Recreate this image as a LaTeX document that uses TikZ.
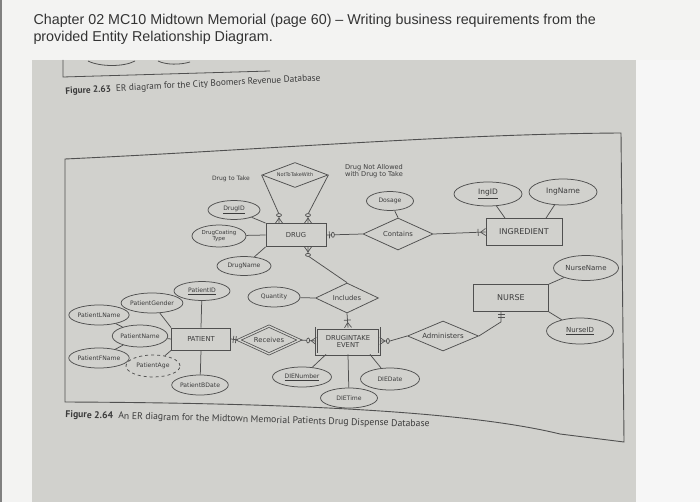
\documentclass[tikz,border=0pt]{standalone}
\usepackage{fontspec}
\setmainfont{Liberation Sans}
\newfontfamily\erfont{DejaVu Sans}
\newfontfamily\capfont{PT Sans}
\usepackage{xcolor}
\definecolor{papergray}{RGB}{243,243,242}
\definecolor{pagegray}{RGB}{209,209,205}
\definecolor{erline}{RGB}{80,80,80}
\definecolor{ertext}{RGB}{60,60,60}
\usepackage{tikz}
\usetikzlibrary{shapes.geometric,decorations.markings,calc}

\begin{document}
\begin{tikzpicture}[x=1pt,y=-1pt,
    entity/.style={draw=erline, line width=0.8pt, fill=pagegray, text=ertext,
      minimum width=60pt, minimum height=23pt, inner sep=1pt, align=center,
      font=\erfont\fontsize{6.8}{7}\selectfont},
    attr/.style={ellipse, draw=erline, line width=0.75pt, fill=pagegray, text=ertext,
      minimum width=54pt, minimum height=20pt, inner sep=0pt, align=center,
      font=\erfont\fontsize{6.1}{6.2}\selectfont},
    rel/.style={diamond, aspect=2.2, draw=erline, line width=0.75pt, fill=pagegray,
      text=ertext, minimum width=64pt, minimum height=30pt, inner sep=0pt,
      font=\erfont\fontsize{6.8}{7}\selectfont},
    link/.style={draw=erline, line width=0.75pt},
    zeromany/.style={postaction={decorate, decoration={markings,
      mark=at position 1 with {
        \draw[erline, line width=0.7pt] (-5pt,0) -- (0,3.5pt) (-5pt,0) -- (0,-3.5pt);
        \draw[erline, line width=0.7pt, fill=pagegray] (-8pt,0) ellipse [x radius=1.5pt, y radius=2.5pt];
      }}}},
    onemany/.style={postaction={decorate, decoration={markings,
      mark=at position 1 with {
        \draw[erline, line width=0.7pt] (-5pt,0) -- (0,3.5pt) (-5pt,0) -- (0,-3.5pt);
        \draw[erline, line width=0.7pt] (-7.5pt,-3.5pt) -- (-7.5pt,3.5pt);
      }}}},
    zeroone/.style={postaction={decorate, decoration={markings,
      mark=at position 1 with {
        \draw[erline, line width=0.7pt] (-3pt,-3.5pt) -- (-3pt,3.5pt);
        \draw[erline, line width=0.7pt, fill=pagegray] (-6.5pt,0) ellipse [x radius=1.5pt, y radius=2.5pt];
      }}}},
    oneone/.style={postaction={decorate, decoration={markings,
      mark=at position 1 with {
        \draw[erline, line width=0.7pt] (-2.5pt,-3.5pt) -- (-2.5pt,3.5pt) (-5pt,-3.5pt) -- (-5pt,3.5pt);
      }}}},
    caption/.style={anchor=west, text=ertext, font=\capfont\fontsize{9.3}{10}\selectfont}
  ]
  \useasboundingbox (0,0) rectangle (700,502);

  % photographed page
  \fill[papergray] (0,0) rectangle (700,502);
  \fill[pagegray] (32,60) rectangle (636,502);
  \fill[white!93!gray] (636,60) rectangle (700,502);
  \draw[gray, line width=1.5pt] (0.75,0) -- (0.75,502);

  \node[anchor=west, text=black!80, align=left, font=\fontsize{14.3}{17}\selectfont]
    (title) at (30,29) {Chapter 02 MC10 Midtown Memorial (page 60) – Writing business requirements from the\\
    provided Entity Relationship Diagram.};

  % end of the previous figure
  \draw[erline, line width=0.8pt] (63,60) -- (63,77) -- (270,71);
  \draw[erline, line width=0.8pt] (88,61) .. controls (100,67) and (124,67) .. (135,61);
  \draw[erline, line width=0.8pt] (158,61) .. controls (166,65) and (180,65) .. (190,62);
  \node[caption, rotate=3] (cap63) at (62,92)
    {\textbf{Figure 2.63}\ \ ER diagram for the City Boomers Revenue Database};

  % frame of figure 2.64
  \draw[erline, line width=0.9pt] (65,159) .. controls (260,150) and (450,134) .. (621,133)
    -- (624,442) -- (560,434) .. controls (470,412) and (300,403) .. (65,402) -- cycle;
  \node[caption, rotate=-1.5, font=\capfont\fontsize{9.7}{10}\selectfont] (cap64) at (62,415)
    {\textbf{Figure 2.64}\ \ An ER diagram for the Midtown Memorial Patients Drug Dispense Database};

  % DRUG
  \node[entity] (drug) at (296,235) {DRUG};
  \node[rel, minimum width=66pt, minimum height=25pt, font=\erfont\fontsize{5}{5}\selectfont]
    (ntw) at (295,175) {NotToTakeWith};
  \node[text=ertext, font=\erfont\fontsize{6}{6.5}\selectfont] (totake) at (231,179) {Drug to Take};
  \node[text=ertext, align=left, font=\erfont\fontsize{6.6}{7.5}\selectfont] (notallowed) at (374,171)
    {Drug Not Allowed\\with Drug to Take};
  \node[attr, minimum width=52pt, minimum height=19pt] (drugid) at (234,210) {\underline{DrugID}};
  \node[attr, minimum height=22pt, font=\erfont\fontsize{5.5}{5.5}\selectfont] (drugcoat) at (219,236) {DrugCoating\\Type};
  \node[attr, minimum height=19pt] (drugname) at (244,266) {DrugName};
  \node[rel, minimum width=70pt, minimum height=32pt] (contains) at (398,234) {Contains};
  \node[attr, minimum width=47pt, minimum height=19pt] (dosage) at (390,201) {Dosage};

  % INGREDIENT
  \node[entity, minimum width=76pt, minimum height=27pt, font=\erfont\fontsize{8}{8}\selectfont]
    (ingr) at (524,232) {INGREDIENT};
  \node[attr, minimum width=68pt, minimum height=24pt, font=\erfont\fontsize{7.5}{8}\selectfont]
    (ingid) at (488,194) {\underline{IngID}};
  \node[attr, minimum width=68pt, minimum height=26pt, font=\erfont\fontsize{7.5}{8}\selectfont]
    (ingname) at (563,192) {IngName};

  % NURSE
  \node[entity, minimum width=75pt, minimum height=27pt, font=\erfont\fontsize{8}{8}\selectfont]
    (nurse) at (511,298) {NURSE};
  \node[attr, minimum width=65pt, minimum height=25pt, font=\erfont\fontsize{7}{7}\selectfont]
    (nursename) at (586,268) {NurseName};
  \node[attr, minimum width=67pt, minimum height=26pt, font=\erfont\fontsize{7}{7}\selectfont]
    (nurseid) at (580,331) {\underline{NurseID}};
  \node[rel, minimum width=71pt, font=\erfont\fontsize{7}{7}\selectfont] (adm) at (443,336) {Administers};

  % DRUGINTAKE EVENT
  \node[rel, minimum width=63pt] (inc) at (347,298) {Includes};
  \node[attr, minimum width=52pt] (qty) at (274,297) {Quantity};
  \node[entity, double=pagegray, double distance=1.4pt, minimum width=63pt, minimum height=26pt]
    (die) at (348,341) {DRUGINTAKE\\EVENT};
  \node[attr, minimum width=59pt] (dienum) at (302,377) {\underline{DIENumber}};
  \node[attr, minimum width=57pt] (dietime) at (349,398) {DIETime};
  \node[attr, minimum width=59pt, minimum height=22pt] (diedate) at (390,379) {DIEDate};

  % PATIENT
  \node[rel, double=pagegray, double distance=1.4pt, minimum width=61pt, minimum height=28pt]
    (rec) at (269,340) {Receives};
  \node[entity, minimum width=59pt, minimum height=22pt] (patient) at (201,339) {PATIENT};
  \node[attr, minimum width=56pt, minimum height=19pt] (patid) at (202,291) {\underline{PatientID}};
  \node[attr, minimum width=52pt] (patgender) at (152,303) {PatientGender};
  \node[attr] (patlname) at (99,315) {PatientLName};
  \node[attr, minimum height=22pt] (patname) at (140,336) {PatientName};
  \node[attr] (patfname) at (99,358) {PatientFName};
  \node[attr, dashed, minimum height=22pt] (patage) at (153,366) {PatientAge};
  \node[attr] (patbdate) at (200,385) {PatientBDate};

  % attributes
  \draw[link] (drugid) -- (drug.north west);
  \draw[link] (drugcoat) -- (drug.west);
  \draw[link] (drugname) -- (drug.south west);
  \draw[link] (dosage) -- (contains.north);
  \draw[link] (ingid) -- ($(ingr.north)+(-19,0)$);
  \draw[link] (ingname) -- ($(ingr.north)+(22,0)$);
  \draw[link] (nursename) -- (nurse.north east);
  \draw[link] (nurseid) -- (nurse.south east);
  \draw[link] (qty) -- (inc.west);
  \draw[link] (dienum) -- ($(die.south)+(-22,0)$);
  \draw[link] (dietime) -- (die.south);
  \draw[link] (diedate) -- ($(die.south)+(22,0)$);
  \draw[link] (patid) -- (patient.north);
  \draw[link] (patgender) -- (patient.north west);
  \draw[link] (patname) -- (patient.west);
  \draw[link] (patage) -- (patient.south west);
  \draw[link] (patbdate) -- (patient.south);
  \draw[link] (patlname) -- (patname);
  \draw[link] (patfname) -- (patname);

  % relationships
  \draw[link, zeromany] (ntw.west) -- ($(drug.north)+(-17,-9)$) -- ($(drug.north)+(-17,0)$);
  \draw[link, zeromany] (ntw.east) -- ($(drug.north)+(12,-9)$) -- ($(drug.north)+(12,0)$);
  \draw[link, zeroone] (contains.west) -- (drug.east);
  \draw[link, onemany] (contains.east) -- (ingr.west);
  \draw[link, zeromany] (inc.north) -- ($(drug.south)+(12,9)$) -- ($(drug.south)+(12,0)$);
  \draw[link, onemany] (inc.south) -- (die.north);
  \draw[link, oneone] (rec.west) -- (patient.east);
  \draw[link, zeromany] (rec.east) -- (die.west);
  \draw[link, zeromany] (adm.west) -- ($(die.east)+(10,0)$) -- (die.east);
  \draw[link, oneone] (adm.east) -- ($(nurse.south)+(-10,10)$) -- ($(nurse.south)+(-10,0)$);
\end{tikzpicture}
\end{document}
